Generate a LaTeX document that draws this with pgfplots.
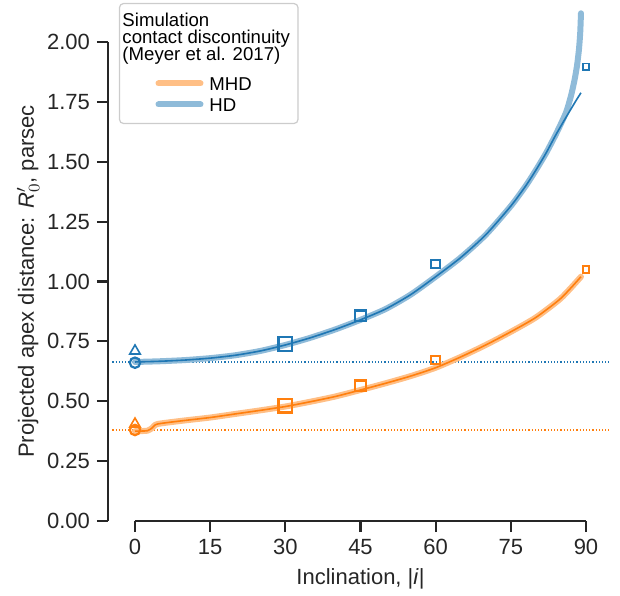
\documentclass[border=0pt]{standalone}
\usepackage{pgfplots}
\pgfplotsset{compat=1.18}
\usepackage{fontspec}
\setmainfont{Liberation Sans}

\definecolor{hdblue}{HTML}{1F77B4}
\definecolor{mhdorange}{HTML}{FF7F0E}
\definecolor{hdlight}{HTML}{8FBBD9}
\definecolor{mhdlight}{HTML}{FFBF86}

% struts for legend rows
\newcommand{\ts}{\rule[-2.85pt]{0pt}{9.5pt}}
\newcommand{\es}{\rule[-4.5pt]{0pt}{13pt}}

\begin{document}
\begin{tikzpicture}
\path[use as bounding box] (-67.5pt,-37pt) rectangle (242.5pt,260.5pt);

% trimmed, offset spines (seaborn ticks style)
\begin{axis}[
  at={(0,0)}, anchor=origin,
  x=2.5055pt, y=119.75pt,
  xmin=0, xmax=90, ymin=0, ymax=2,
  axis x line*=bottom, axis y line*=left,
  axis y line shift=13.5pt,
  axis line style={-, line width=1.1pt, black!85},
  xtick={0,15,30,45,60,75,90},
  ytick={0,0.25,0.5,0.75,1,1.25,1.5,1.75,2},
  tick align=outside, major tick length=5.5pt,
  every tick/.style={black!85, line width=1.1pt},
  tick label style={font=\fontsize{11}{13}\selectfont, black!85},
  /pgf/number format/assume math mode=true,
  yticklabel style={/pgf/number format/.cd, fixed, fixed zerofill, precision=2},
  xlabel={Inclination, |\textit{i}|},
  ylabel={Projected apex distance: \textit{R}$'_0$, parsec},
  ylabel shift=-3pt,
  label style={font=\fontsize{11}{13}\selectfont, black!85},
]
\end{axis}

% data
\begin{axis}[
  at={(0,0)}, anchor=origin,
  x=2.5055pt, y=119.75pt,
  xmin=-4.5, xmax=94.5, ymin=0, ymax=2.163,
  hide axis, clip=false,
  legend style={at={(axis description cs:0.013,1)}, anchor=north west,
    draw=black!20, line width=0.6pt, rounded corners=2pt, fill=white,
    font=\fontsize{9.3}{9.5}\selectfont, cells={anchor=west},
    inner xsep=2pt, inner ysep=2.5pt, row sep=-3.5pt},
  legend image code/.code={\path[draw=none] (0pt,-0.5pt) rectangle (41pt,0.5pt);
    \draw[#1] (17.5pt,0pt) -- (38.5pt,0pt);},
]
\addlegendimage{empty legend}
\addlegendentry{\hspace{-43.5pt}\ts Simulation}
\addlegendimage{empty legend}
\addlegendentry{\hspace{-43.5pt}\ts contact discontinuity}
\addlegendimage{empty legend}
\addlegendentry{\hspace{-43.5pt}\ts (Meyer et al. 2017)}
\addlegendimage{empty legend}
\addlegendentry{\rule{0pt}{2.25pt}}
\addlegendimage{mhdlight, line width=3pt, line cap=round}
\addlegendentry{\es MHD}
\addlegendimage{hdlight, line width=3pt, line cap=round}
\addlegendentry{\es HD}

% reference levels at i = 0
\addplot[forget plot, hdblue, densely dotted, line width=0.6pt] coordinates {(-4.5,0.664) (94.5,0.664)};
\addplot[forget plot, mhdorange, densely dotted, line width=0.6pt] coordinates {(-4.5,0.38) (94.5,0.38)};

% MHD
\addplot[forget plot, mhdlight, line width=3pt, line cap=round, line join=round, smooth, tension=0.4] coordinates {
(0,0.375) (2.5,0.377) (3.5,0.39) (4.5,0.405) (10,0.42) (15,0.432) (20,0.447) (25,0.462)
(30,0.478) (35,0.498) (40,0.52) (45,0.547) (50,0.575) (55,0.605) (60,0.64) (65,0.685)
(70,0.735) (75,0.79) (80,0.85) (85,0.93) (89,1.02)};
\addplot[forget plot, mhdorange, line width=0.8pt, line join=round, smooth, tension=0.4] coordinates {
(0,0.375) (2.5,0.377) (3.5,0.39) (4.5,0.405) (10,0.42) (15,0.432) (20,0.447) (25,0.462)
(30,0.478) (35,0.498) (40,0.52) (45,0.547) (50,0.575) (55,0.605) (60,0.64) (65,0.685)
(70,0.735) (75,0.79) (80,0.85) (85,0.93) (89,1.02)};

% HD
\addplot[forget plot, hdlight, line width=3pt, line cap=round, line join=round, smooth, tension=0.4] coordinates {
(0,0.664) (5,0.667) (10,0.672) (15,0.68) (20,0.692) (25,0.71) (30,0.735) (35,0.765)
(40,0.80) (45,0.84) (50,0.885) (55,0.945) (60,1.02) (65,1.10) (70,1.195) (75,1.315)
(78,1.40) (80,1.465) (82,1.535) (84,1.615) (86,1.705) (87,1.775) (87.7,1.84)
(88.2,1.90) (88.6,1.97) (88.85,2.04) (89,2.12)};
\addplot[forget plot, hdblue, line width=0.8pt, line join=round, smooth, tension=0.4] coordinates {
(0,0.664) (5,0.667) (10,0.672) (15,0.68) (20,0.692) (25,0.71) (30,0.735) (35,0.765)
(40,0.80) (45,0.84) (50,0.885) (55,0.945) (60,1.02) (65,1.10) (70,1.195) (75,1.315)
(78,1.40) (80,1.465) (82,1.535) (84,1.613) (86,1.685) (88,1.755) (89,1.788)};

% i = 0 markers
\addplot[forget plot, only marks, hdblue, mark=o, mark size=2.6pt, mark options={line width=1.1pt}] coordinates {(0,0.661)};
\addplot[forget plot, only marks, hdblue, mark=triangle, mark size=3pt, mark options={line width=0.8pt}] coordinates {(0,0.71)};
\addplot[forget plot, only marks, mhdorange, mark=o, mark size=2.6pt, mark options={line width=1.1pt}] coordinates {(0,0.38)};
\addplot[forget plot, only marks, mhdorange, mark=triangle, mark size=3pt, mark options={line width=0.8pt}] coordinates {(0,0.405)};

% projected simulation points
\addplot[forget plot, only marks, hdblue, mark=square, mark size=3.4pt, mark options={line width=1.2pt}] coordinates {(30,0.739)};
\addplot[forget plot, only marks, hdblue, mark=square, mark size=2.7pt, mark options={line width=1.1pt}] coordinates {(45,0.856)};
\addplot[forget plot, only marks, hdblue, mark=square, mark size=2.2pt, mark options={line width=1.0pt}] coordinates {(60,1.073)};
\addplot[forget plot, only marks, hdblue, mark=square, mark size=1.6pt, mark options={line width=0.9pt}] coordinates {(90,1.897)};
\addplot[forget plot, only marks, mhdorange, mark=square, mark size=3.4pt, mark options={line width=1.2pt}] coordinates {(30,0.481)};
\addplot[forget plot, only marks, mhdorange, mark=square, mark size=2.7pt, mark options={line width=1.1pt}] coordinates {(45,0.564)};
\addplot[forget plot, only marks, mhdorange, mark=square, mark size=2.2pt, mark options={line width=1.0pt}] coordinates {(60,0.672)};
\addplot[forget plot, only marks, mhdorange, mark=square, mark size=1.6pt, mark options={line width=0.9pt}] coordinates {(90,1.05)};
\end{axis}
\end{tikzpicture}
\end{document}
